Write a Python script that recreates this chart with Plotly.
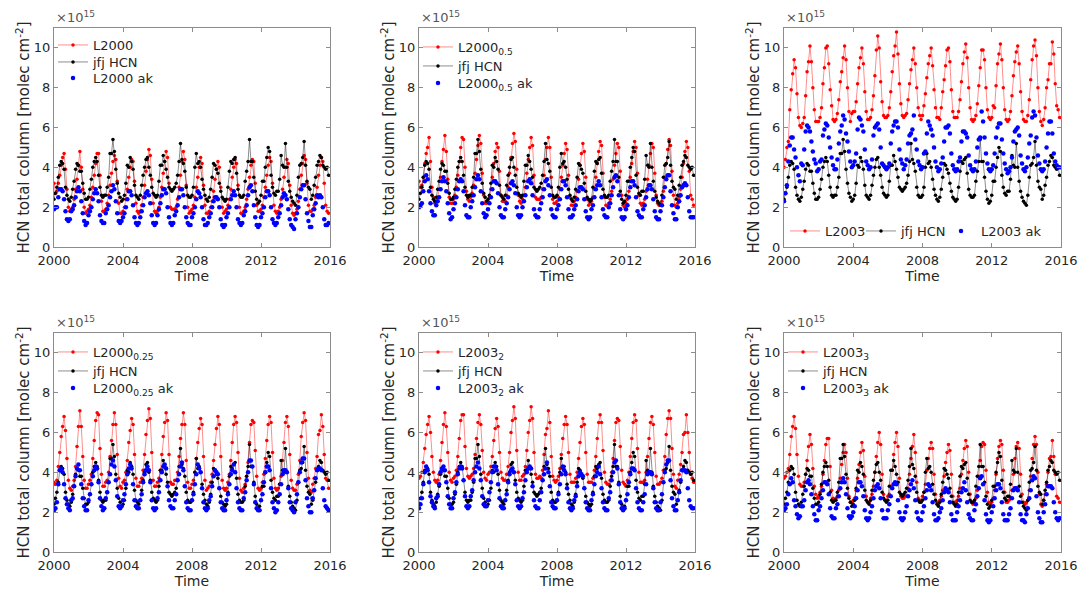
import numpy as np
import plotly.graph_objects as go

# monthly time axis, Jan 2000 .. Dec 2015 (decimal years)
time = 2000 + np.arange(192) / 12

# Jungfraujoch observed HCN total column (x1e15 molec cm-2), same in all panels
jfj_hcn = [
    2.4, 2.7, 3.0, 3.5, 4.1, 4.3, 4.2, 3.9, 3.0, 2.6, 2.4, 2.3,
    2.5, 2.9, 3.3, 3.9, 4.2, 4.1, 3.8, 3.8, 3.2, 2.7, 2.4, 2.4,
    2.5, 2.9, 3.4, 4.0, 4.3, 4.5, 4.3, 3.6, 3.0, 2.6, 2.5, 2.6,
    2.6, 3.0, 3.5, 4.7, 4.7, 5.4, 4.8, 3.9, 3.2, 2.7, 2.5, 2.3,
    2.4, 2.6, 3.2, 4.1, 4.0, 4.5, 4.3, 3.9, 3.1, 2.6, 2.5, 2.4,
    2.6, 3.1, 3.6, 4.0, 4.4, 4.5, 4.0, 3.6, 3.0, 2.7, 2.6, 2.5,
    2.6, 3.3, 4.1, 4.1, 4.6, 4.3, 3.9, 3.5, 3.0, 2.9, 2.8, 2.9,
    3.0, 3.2, 3.6, 4.3, 5.2, 4.4, 4.2, 3.8, 3.0, 2.6, 2.5, 2.5,
    2.6, 3.0, 4.0, 4.7, 4.2, 4.3, 4.0, 3.4, 2.9, 2.6, 2.4, 2.3,
    2.5, 2.9, 3.5, 4.2, 4.1, 3.9, 3.7, 3.2, 2.8, 2.5, 2.4, 2.3,
    2.4, 3.0, 3.8, 4.3, 4.2, 4.4, 4.5, 3.7, 2.9, 2.6, 2.5, 2.5,
    2.6, 3.3, 3.8, 4.3, 5.4, 4.3, 4.3, 3.5, 2.8, 2.4, 2.2, 2.3,
    2.6, 3.3, 3.3, 4.0, 4.5, 5.0, 4.8, 3.6, 3.0, 2.7, 2.6, 2.8,
    2.8, 3.4, 4.6, 4.1, 4.0, 5.2, 4.0, 3.3, 2.8, 2.5, 2.3, 2.2,
    2.1, 2.6, 3.5, 4.1, 4.2, 4.5, 5.3, 4.1, 3.3, 3.0, 2.9, 2.4,
    2.6, 3.1, 3.5, 4.1, 4.3, 4.6, 4.5, 4.1, 4.0, 3.9, 4.0, 3.6,
]

l2000 = [
    3.2, 2.7, 2.8, 3.2, 3.6, 4.1, 4.5, 4.7, 3.9, 2.9, 2.0, 1.8,
    1.9, 2.0, 2.4, 2.9, 3.4, 4.1, 4.8, 4.0, 2.9, 2.0, 1.7, 1.8,
    1.9, 2.1, 2.5, 3.0, 3.6, 4.2, 4.7, 4.7, 3.6, 2.3, 1.8, 1.8,
    1.9, 2.2, 2.6, 3.1, 3.7, 4.3, 4.6, 4.4, 3.3, 2.2, 1.7, 1.7,
    1.8, 2.0, 2.4, 2.9, 3.5, 4.0, 4.4, 4.3, 3.3, 2.2, 1.8, 1.7,
    1.8, 2.1, 2.5, 3.1, 3.8, 4.4, 4.9, 4.6, 3.4, 2.2, 1.8, 1.7,
    1.8, 2.0, 2.5, 3.0, 3.7, 4.3, 4.8, 4.5, 3.2, 2.0, 1.9, 1.9,
    1.9, 2.0, 2.4, 3.0, 3.6, 4.3, 4.8, 4.4, 3.1, 2.0, 1.7, 1.8,
    1.9, 2.1, 2.5, 3.0, 3.5, 4.0, 4.5, 4.2, 3.1, 2.1, 1.7, 1.7,
    1.8, 2.0, 2.3, 2.8, 3.4, 3.9, 4.3, 4.0, 3.0, 2.0, 1.7, 1.8,
    1.9, 2.1, 2.4, 2.9, 3.5, 4.0, 4.4, 4.2, 3.1, 2.0, 1.7, 1.7,
    1.8, 2.0, 2.4, 2.9, 3.5, 4.1, 4.4, 4.3, 3.2, 2.1, 1.8, 1.8,
    1.9, 2.1, 2.5, 3.0, 3.6, 4.1, 4.5, 4.3, 3.2, 2.1, 1.8, 1.7,
    1.8, 2.0, 2.4, 2.9, 3.5, 4.0, 4.4, 4.2, 3.1, 2.1, 1.7, 1.6,
    1.7, 1.9, 2.3, 2.9, 3.6, 4.2, 4.6, 4.4, 3.2, 2.1, 1.8, 1.8,
    1.9, 2.1, 2.5, 3.0, 3.6, 4.1, 4.5, 4.3, 3.2, 2.1, 1.8, 1.7,
]
l2000_ak = [
    1.9, 2.0, 2.0, 2.5, 2.9, 2.9, 2.8, 2.4, 1.8, 1.4, 1.3, 1.4,
    1.8, 1.9, 2.1, 2.5, 2.8, 3.0, 2.8, 2.3, 1.7, 1.3, 1.1, 1.2,
    1.6, 1.8, 2.0, 2.4, 2.7, 2.9, 2.7, 2.3, 1.6, 1.3, 1.2, 1.2,
    1.7, 1.9, 2.1, 2.5, 2.8, 3.1, 2.9, 2.3, 1.7, 1.3, 1.2, 1.3,
    1.5, 1.7, 2.0, 2.4, 2.8, 2.8, 2.6, 2.1, 1.5, 1.2, 1.1, 1.2,
    1.5, 1.8, 2.1, 2.5, 2.7, 2.8, 2.6, 2.2, 1.6, 1.2, 1.1, 1.2,
    1.6, 1.9, 2.2, 2.6, 2.9, 2.9, 2.7, 2.0, 1.5, 1.2, 1.1, 1.2,
    1.6, 1.8, 2.1, 2.5, 2.9, 2.9, 2.6, 2.0, 1.5, 1.2, 1.1, 1.1,
    1.5, 1.7, 2.0, 2.4, 2.8, 2.7, 2.5, 2.0, 1.4, 1.1, 1.1, 1.2,
    1.5, 1.7, 2.0, 2.3, 2.5, 2.5, 2.4, 2.0, 1.4, 1.1, 1.0, 1.1,
    1.5, 1.7, 2.0, 2.4, 2.6, 2.8, 2.6, 2.0, 1.4, 1.2, 1.1, 1.2,
    1.6, 1.8, 2.1, 2.6, 3.0, 3.1, 2.8, 2.1, 1.5, 1.1, 1.0, 1.1,
    1.5, 1.7, 2.0, 2.5, 2.8, 2.8, 2.6, 2.0, 1.4, 1.2, 1.1, 1.2,
    1.5, 1.7, 2.1, 2.5, 2.7, 2.6, 2.4, 1.9, 1.4, 1.1, 1.0, 0.9,
    1.4, 1.7, 2.0, 2.5, 2.9, 3.1, 3.1, 2.4, 1.7, 1.3, 1.0, 1.0,
    1.6, 1.9, 2.2, 2.6, 2.5, 2.6, 2.5, 2.0, 1.4, 1.1, 1.1, 1.2,
]

l2000_05 = [
    3.3, 3.0, 3.1, 3.5, 4.2, 4.7, 5.0, 5.5, 4.3, 3.0, 2.5, 2.2,
    2.3, 2.5, 2.9, 3.5, 4.3, 4.9, 5.6, 4.8, 3.4, 2.5, 2.2, 2.2,
    2.4, 2.6, 3.0, 3.6, 4.3, 5.0, 5.5, 5.4, 4.0, 2.8, 2.4, 2.3,
    2.5, 2.7, 3.1, 3.7, 4.4, 5.1, 5.6, 5.2, 3.7, 2.6, 2.2, 2.2,
    2.3, 2.5, 2.9, 3.5, 4.2, 4.8, 5.2, 5.0, 3.8, 2.6, 2.3, 2.3,
    2.3, 2.6, 3.0, 3.7, 4.5, 5.2, 5.7, 5.3, 3.9, 2.6, 2.3, 2.2,
    2.4, 2.6, 3.0, 3.7, 4.4, 5.0, 5.5, 5.1, 3.6, 2.5, 2.4, 2.4,
    2.4, 2.5, 2.9, 3.6, 4.4, 5.0, 5.5, 5.0, 3.5, 2.4, 2.2, 2.2,
    2.3, 2.5, 2.9, 3.5, 4.1, 4.7, 5.2, 4.9, 3.6, 2.5, 2.1, 2.1,
    2.3, 2.5, 2.8, 3.4, 4.1, 4.7, 5.2, 4.8, 3.5, 2.4, 2.1, 2.2,
    2.3, 2.5, 2.9, 3.5, 4.2, 4.8, 5.3, 5.1, 3.7, 2.5, 2.1, 2.1,
    2.2, 2.4, 2.8, 3.4, 4.1, 4.7, 5.2, 5.0, 3.8, 2.6, 2.1, 2.0,
    2.2, 2.4, 2.8, 3.5, 4.2, 4.8, 5.3, 5.0, 3.7, 2.6, 2.2, 2.1,
    2.2, 2.4, 2.8, 3.4, 4.1, 4.7, 5.2, 5.0, 3.7, 2.6, 2.2, 2.1,
    2.1, 2.3, 2.8, 3.5, 4.2, 4.9, 5.4, 5.1, 3.8, 2.6, 2.1, 2.0,
    2.2, 2.5, 2.9, 3.5, 4.2, 4.8, 5.3, 5.0, 3.8, 2.6, 2.4, 2.1,
]
l2000_05_ak = [
    2.0, 2.1, 2.2, 2.8, 3.3, 3.6, 3.4, 2.8, 2.2, 1.8, 1.6, 1.6,
    2.1, 2.3, 2.5, 2.9, 3.3, 3.5, 3.3, 2.8, 2.2, 1.7, 1.4, 1.5,
    1.9, 2.2, 2.5, 2.9, 3.3, 3.4, 3.3, 2.8, 2.1, 1.6, 1.5, 1.5,
    2.0, 2.3, 2.6, 3.0, 3.4, 3.6, 3.4, 2.8, 2.2, 1.7, 1.5, 1.6,
    1.9, 2.2, 2.5, 2.9, 3.3, 3.3, 3.2, 2.7, 2.0, 1.6, 1.5, 1.5,
    1.9, 2.2, 2.5, 2.9, 3.2, 3.3, 3.1, 2.7, 2.0, 1.6, 1.5, 1.6,
    2.0, 2.3, 2.6, 3.0, 3.3, 3.4, 3.2, 2.6, 1.9, 1.6, 1.5, 1.5,
    1.9, 2.2, 2.5, 2.9, 3.3, 3.4, 3.1, 2.6, 1.9, 1.6, 1.5, 1.5,
    1.9, 2.1, 2.4, 2.9, 3.3, 3.3, 3.1, 2.5, 1.9, 1.5, 1.5, 1.6,
    1.9, 2.1, 2.4, 2.8, 3.0, 3.0, 2.9, 2.4, 1.8, 1.5, 1.4, 1.5,
    1.9, 2.1, 2.5, 2.9, 3.1, 3.3, 3.1, 2.5, 1.9, 1.6, 1.5, 1.5,
    2.0, 2.2, 2.6, 3.0, 3.5, 3.6, 3.3, 2.6, 1.9, 1.5, 1.4, 1.5,
    1.9, 2.1, 2.5, 3.0, 3.3, 3.3, 3.1, 2.5, 1.8, 1.6, 1.5, 1.5,
    1.9, 2.1, 2.5, 2.9, 3.1, 3.1, 2.9, 2.4, 1.8, 1.5, 1.4, 1.4,
    1.8, 2.1, 2.5, 3.0, 3.4, 3.6, 3.6, 2.8, 2.1, 1.7, 1.4, 1.4,
    2.0, 2.3, 2.6, 3.0, 3.1, 3.2, 3.1, 2.5, 1.8, 1.5, 1.5, 1.5,
]

l2003 = [
    4.0, 4.4, 5.0, 5.3, 6.9, 7.9, 8.7, 9.4, 9.0, 7.7, 6.5, 6.1,
    6.0, 6.2, 6.5, 7.6, 8.8, 9.3, 10.1, 9.3, 8.0, 6.9, 6.3, 6.3,
    6.3, 6.5, 7.0, 8.2, 9.0, 10.0, 10.1, 9.2, 7.9, 7.1, 6.4, 6.3,
    6.4, 6.7, 7.4, 8.3, 8.8, 9.5, 10.1, 9.4, 8.0, 6.8, 6.3, 6.7,
    6.8, 6.8, 7.3, 8.2, 9.0, 9.5, 10.0, 9.2, 7.8, 6.8, 6.4, 6.4,
    6.5, 6.9, 7.6, 8.6, 9.9, 10.6, 10.0, 8.3, 7.3, 6.6, 6.5, 6.5,
    6.6, 7.0, 7.8, 8.8, 9.6, 10.1, 10.8, 9.7, 8.2, 7.2, 6.6, 6.5,
    6.6, 6.7, 7.4, 8.2, 8.9, 9.4, 10.0, 9.2, 8.0, 7.0, 6.6, 6.4,
    6.6, 7.1, 7.7, 8.5, 9.2, 9.6, 10.0, 9.1, 7.9, 7.0, 6.5, 6.5,
    6.4, 7.0, 7.8, 8.4, 9.1, 9.9, 10.0, 9.3, 7.9, 6.8, 6.5, 6.5,
    6.5, 6.8, 7.4, 8.3, 9.2, 9.8, 10.2, 9.5, 8.0, 7.0, 6.4, 6.3,
    6.4, 6.6, 7.2, 8.1, 9.0, 9.9, 9.9, 9.4, 8.0, 6.9, 6.5, 6.4,
    6.5, 7.1, 7.0, 8.1, 9.2, 9.7, 10.2, 9.4, 8.0, 6.9, 6.4, 6.3,
    6.4, 6.8, 7.6, 8.6, 9.3, 9.8, 10.1, 9.2, 7.8, 6.8, 6.4, 6.3,
    6.3, 6.6, 7.4, 8.4, 9.4, 10.1, 10.4, 9.6, 8.0, 6.8, 6.3, 6.1,
    6.4, 7.0, 8.0, 8.4, 9.2, 9.2, 10.3, 9.7, 8.2, 7.1, 6.9, 6.5,
]
l2003_ak = [
    2.3, 2.7, 3.1, 4.3, 5.1, 5.5, 5.5, 4.9, 4.5, 4.0, 3.6, 3.3,
    4.2, 4.1, 4.9, 5.8, 6.1, 6.0, 5.8, 5.3, 4.8, 4.4, 4.2, 3.8,
    3.9, 4.3, 4.4, 5.6, 5.9, 6.2, 6.1, 5.5, 5.0, 4.5, 4.1, 3.9,
    3.9, 4.4, 5.2, 5.8, 6.1, 6.6, 6.4, 5.7, 5.3, 4.8, 4.3, 4.0,
    4.1, 4.3, 4.7, 5.9, 6.5, 6.4, 6.1, 5.8, 4.9, 4.3, 4.1, 3.9,
    4.0, 4.4, 5.6, 6.0, 6.1, 6.2, 5.9, 5.0, 4.2, 4.1, 4.0, 3.9,
    4.0, 4.2, 5.2, 5.8, 6.1, 6.3, 6.3, 6.0, 4.9, 4.4, 4.2, 3.9,
    4.1, 4.4, 5.2, 5.6, 5.7, 5.9, 6.6, 5.4, 4.9, 4.3, 4.1, 3.9,
    4.0, 4.7, 4.8, 5.7, 6.3, 6.1, 5.9, 5.6, 5.0, 4.3, 4.0, 3.8,
    3.9, 4.2, 4.5, 5.3, 6.0, 6.0, 6.1, 5.7, 4.7, 4.1, 3.9, 3.8,
    3.9, 4.3, 4.5, 5.3, 5.8, 5.8, 5.7, 5.5, 4.6, 4.1, 3.9, 3.8,
    3.9, 4.3, 5.0, 5.4, 5.5, 6.8, 6.3, 5.5, 4.7, 4.2, 3.9, 3.8,
    3.9, 4.1, 4.7, 5.5, 6.0, 6.2, 6.2, 5.4, 4.7, 4.2, 3.9, 3.7,
    3.8, 4.0, 4.5, 5.3, 5.8, 5.9, 6.0, 5.6, 4.6, 4.2, 3.9, 3.8,
    4.0, 4.5, 5.2, 5.6, 6.5, 6.8, 6.6, 5.5, 4.6, 4.2, 3.9, 3.8,
    3.9, 4.3, 5.0, 5.7, 6.3, 6.3, 5.7, 4.7, 4.3, 4.1, 4.0, 4.0,
]

l2000_025 = [
    3.5, 3.4, 3.6, 4.3, 5.0, 5.8, 6.3, 6.8, 6.1, 4.7, 3.6, 3.2,
    3.1, 3.3, 3.6, 4.3, 5.3, 6.3, 7.1, 6.3, 4.8, 3.6, 3.2, 3.2,
    3.4, 3.6, 3.9, 4.7, 5.6, 6.6, 7.0, 6.9, 5.2, 3.9, 3.3, 3.3,
    3.5, 3.6, 4.0, 4.8, 5.6, 6.4, 7.0, 6.4, 4.9, 3.7, 3.3, 3.2,
    3.5, 3.6, 4.0, 4.6, 5.5, 6.1, 6.7, 6.4, 4.9, 3.7, 3.3, 3.3,
    3.5, 3.7, 4.1, 4.9, 5.9, 6.6, 7.2, 6.7, 5.0, 3.6, 3.3, 3.3,
    3.5, 3.7, 4.1, 4.9, 5.8, 6.5, 7.0, 6.6, 4.9, 3.5, 3.4, 3.4,
    3.6, 3.6, 4.0, 4.8, 5.7, 6.4, 7.0, 6.4, 4.6, 3.5, 3.2, 3.2,
    3.4, 3.6, 4.0, 4.7, 5.5, 6.2, 6.7, 6.4, 4.8, 3.6, 3.1, 3.2,
    3.3, 3.5, 3.9, 4.6, 5.4, 6.2, 6.8, 6.4, 4.8, 3.6, 3.2, 3.1,
    3.2, 3.5, 3.9, 4.6, 5.5, 6.4, 6.8, 6.5, 5.0, 3.7, 3.1, 3.0,
    3.2, 3.4, 3.8, 4.5, 5.5, 6.4, 6.6, 6.5, 5.1, 3.8, 3.2, 3.1,
    3.2, 3.5, 3.9, 4.7, 5.6, 6.4, 6.8, 6.5, 5.0, 3.7, 3.2, 3.1,
    3.2, 3.4, 3.8, 4.6, 5.5, 6.5, 6.8, 6.3, 4.9, 3.6, 3.2, 3.1,
    3.1, 3.4, 3.9, 4.6, 5.8, 6.5, 7.0, 6.6, 5.0, 3.7, 3.1, 3.0,
    3.4, 3.7, 4.2, 4.8, 5.9, 6.1, 6.9, 6.3, 4.9, 3.7, 3.6, 3.2,
]
l2000_025_ak = [
    2.1, 2.2, 2.5, 3.4, 4.1, 4.2, 4.0, 3.4, 2.7, 2.4, 2.2, 2.1,
    2.6, 2.7, 3.3, 3.8, 4.2, 4.4, 4.1, 3.4, 2.7, 2.3, 2.1, 2.1,
    2.6, 2.9, 3.4, 3.8, 4.1, 4.3, 4.2, 3.5, 2.7, 2.3, 2.1, 2.2,
    2.7, 3.0, 3.5, 3.9, 4.4, 4.6, 4.3, 3.6, 2.8, 2.3, 2.2, 2.3,
    2.6, 2.9, 3.4, 3.9, 4.2, 4.4, 4.2, 3.4, 2.6, 2.3, 2.2, 2.2,
    2.6, 2.9, 3.5, 3.9, 4.1, 4.3, 4.1, 3.5, 2.6, 2.2, 2.1, 2.2,
    2.7, 3.0, 3.6, 4.0, 4.3, 4.4, 4.2, 3.3, 2.6, 2.3, 2.2, 2.2,
    2.6, 2.9, 3.6, 3.9, 4.3, 4.5, 4.1, 3.3, 2.5, 2.2, 2.1, 2.1,
    2.6, 2.9, 3.4, 3.9, 4.4, 4.2, 4.0, 3.2, 2.5, 2.2, 2.1, 2.2,
    2.6, 2.8, 3.3, 3.8, 4.1, 4.0, 3.9, 3.2, 2.5, 2.2, 2.1, 2.1,
    2.6, 2.9, 3.4, 3.9, 4.1, 4.4, 4.0, 3.2, 2.5, 2.2, 2.1, 2.1,
    2.7, 3.0, 3.6, 4.0, 4.6, 4.6, 4.3, 3.4, 2.5, 2.2, 2.1, 2.1,
    2.6, 2.9, 3.5, 4.0, 4.3, 4.3, 4.1, 3.2, 2.5, 2.2, 2.0, 2.1,
    2.5, 2.9, 3.4, 3.9, 4.1, 4.1, 4.0, 3.2, 2.5, 2.2, 2.1, 2.0,
    2.5, 2.9, 3.5, 4.0, 4.5, 4.7, 4.7, 3.6, 2.7, 2.3, 2.0, 2.0,
    2.7, 3.1, 3.7, 4.1, 4.2, 4.2, 4.1, 3.2, 2.6, 2.3, 2.2, 2.1,
]

l2003_2 = [
    3.7, 3.8, 4.0, 4.5, 5.2, 5.9, 6.4, 6.8, 6.0, 4.8, 4.0, 3.6,
    3.5, 3.6, 3.9, 4.6, 5.5, 6.4, 7.0, 6.3, 5.0, 4.0, 3.6, 3.5,
    3.7, 3.8, 4.1, 4.8, 5.7, 6.6, 6.9, 6.9, 5.3, 4.2, 3.8, 3.7,
    3.8, 3.9, 4.2, 4.9, 5.7, 6.5, 6.9, 6.4, 5.1, 4.0, 3.7, 3.6,
    3.9, 4.0, 4.3, 4.8, 5.6, 6.2, 6.7, 6.3, 5.0, 4.0, 3.7, 3.6,
    3.6, 3.9, 4.3, 5.0, 6.0, 6.6, 7.3, 6.7, 5.1, 4.0, 3.6, 3.6,
    3.8, 3.9, 4.3, 5.1, 6.0, 6.6, 7.3, 6.7, 5.0, 3.9, 3.7, 3.7,
    3.8, 3.7, 4.1, 4.9, 5.9, 6.2, 7.1, 6.5, 4.8, 3.8, 3.6, 3.5,
    3.6, 3.8, 4.2, 4.9, 5.7, 6.4, 6.8, 6.4, 5.0, 3.9, 3.5, 3.5,
    3.5, 3.7, 4.0, 4.7, 5.5, 6.3, 6.7, 6.4, 5.0, 3.9, 3.5, 3.5,
    3.5, 3.7, 4.1, 4.8, 5.7, 6.5, 6.9, 6.5, 5.1, 4.0, 3.5, 3.4,
    3.4, 3.6, 4.0, 4.7, 5.6, 6.5, 6.7, 6.6, 5.3, 4.1, 3.5, 3.4,
    3.3, 3.6, 4.0, 4.8, 5.7, 6.5, 6.9, 6.6, 5.2, 4.0, 3.5, 3.5,
    3.5, 3.6, 4.0, 4.8, 5.7, 6.5, 6.8, 6.4, 5.0, 3.8, 3.4, 3.4,
    3.5, 3.7, 4.1, 4.8, 5.9, 6.7, 7.1, 6.7, 5.2, 3.9, 3.3, 3.2,
    3.6, 3.9, 4.4, 5.0, 5.9, 6.0, 6.9, 6.0, 5.0, 3.9, 3.7, 3.5,
]
l2003_2_ak = [
    2.2, 2.4, 2.7, 3.4, 4.0, 4.3, 4.1, 3.5, 2.8, 2.5, 2.3, 2.2,
    2.7, 2.8, 3.4, 4.0, 4.2, 4.3, 4.1, 3.5, 2.8, 2.4, 2.2, 2.2,
    2.7, 3.0, 3.5, 3.9, 4.2, 4.3, 4.2, 3.6, 2.8, 2.3, 2.2, 2.3,
    2.8, 3.1, 3.6, 4.0, 4.3, 4.5, 4.2, 3.6, 2.8, 2.4, 2.3, 2.3,
    2.6, 3.0, 3.5, 4.0, 4.3, 4.3, 4.1, 3.4, 2.7, 2.3, 2.2, 2.2,
    2.6, 2.9, 3.5, 3.9, 4.1, 4.2, 4.0, 3.4, 2.6, 2.3, 2.2, 2.3,
    2.7, 3.0, 3.6, 4.0, 4.2, 4.3, 4.2, 3.3, 2.6, 2.3, 2.2, 2.2,
    2.6, 3.0, 3.6, 3.9, 4.2, 4.5, 4.0, 3.3, 2.5, 2.3, 2.2, 2.2,
    2.6, 2.9, 3.4, 3.9, 4.3, 4.1, 3.9, 3.2, 2.5, 2.2, 2.1, 2.2,
    2.6, 2.8, 3.3, 3.8, 4.0, 3.9, 3.8, 3.2, 2.5, 2.2, 2.1, 2.1,
    2.6, 2.9, 3.4, 3.8, 4.0, 4.3, 3.9, 3.2, 2.5, 2.2, 2.1, 2.1,
    2.7, 3.0, 3.6, 4.0, 4.5, 4.6, 4.2, 3.4, 2.5, 2.2, 2.1, 2.2,
    2.6, 2.9, 3.5, 3.9, 4.2, 4.2, 4.1, 3.2, 2.5, 2.2, 2.1, 2.1,
    2.5, 2.9, 3.4, 3.9, 4.0, 4.0, 3.9, 3.2, 2.5, 2.2, 2.1, 2.1,
    2.5, 2.9, 3.5, 4.0, 4.4, 4.6, 4.6, 3.6, 2.7, 2.3, 2.1, 2.1,
    2.6, 3.0, 3.6, 4.1, 4.1, 4.1, 4.0, 3.2, 2.6, 2.3, 2.2, 2.2,
]

l2003_3 = [
    3.7, 3.8, 4.0, 4.2, 4.9, 5.8, 6.3, 6.8, 6.2, 4.9, 3.8, 3.4,
    3.3, 3.3, 3.5, 3.9, 4.6, 5.3, 5.9, 5.4, 4.2, 3.3, 2.9, 2.7,
    2.8, 3.0, 3.3, 3.9, 4.6, 5.4, 5.7, 5.7, 4.3, 3.1, 2.7, 2.6,
    2.7, 2.8, 3.1, 3.7, 4.4, 5.0, 5.4, 5.0, 3.7, 2.8, 2.5, 2.5,
    2.6, 2.7, 3.1, 3.7, 4.4, 5.0, 5.5, 5.1, 3.8, 2.8, 2.5, 2.5,
    2.7, 2.9, 3.3, 4.0, 4.8, 5.5, 6.0, 5.4, 3.9, 2.9, 2.6, 2.6,
    2.8, 2.9, 3.3, 4.1, 4.9, 5.5, 6.0, 5.3, 3.7, 2.8, 2.7, 2.7,
    2.8, 2.8, 3.2, 3.9, 4.7, 5.3, 5.9, 5.0, 3.5, 2.7, 2.6, 2.6,
    2.8, 3.0, 3.4, 4.1, 4.7, 5.2, 5.5, 5.2, 3.9, 2.9, 2.5, 2.4,
    2.6, 2.8, 3.1, 3.8, 4.5, 5.0, 5.4, 5.1, 3.9, 2.8, 2.5, 2.5,
    2.6, 2.8, 3.2, 3.9, 4.6, 5.2, 5.6, 5.3, 4.0, 2.9, 2.5, 2.4,
    2.5, 2.7, 3.1, 3.8, 4.6, 5.3, 5.5, 5.4, 4.1, 3.0, 2.5, 2.4,
    2.5, 2.7, 3.1, 3.9, 4.7, 5.3, 5.6, 5.4, 4.1, 3.0, 2.5, 2.5,
    2.6, 2.7, 3.1, 3.9, 4.7, 5.3, 5.5, 5.2, 3.9, 2.9, 2.5, 2.4,
    2.5, 2.6, 3.1, 3.8, 4.7, 5.4, 5.8, 5.4, 4.0, 2.9, 2.4, 2.3,
    2.6, 2.9, 3.4, 4.0, 4.7, 4.8, 5.6, 4.8, 3.9, 2.8, 2.7, 2.5,
]
l2003_3_ak = [
    2.1, 2.2, 2.4, 2.9, 3.4, 3.7, 3.5, 2.6, 2.3, 1.9, 1.7, 1.8,
    2.3, 2.3, 2.6, 3.1, 3.5, 3.6, 3.4, 2.9, 2.3, 1.9, 1.6, 1.6,
    2.1, 2.3, 2.7, 3.1, 3.5, 3.5, 3.4, 2.9, 2.2, 1.8, 1.7, 1.7,
    2.2, 2.4, 2.8, 3.2, 3.5, 3.7, 3.5, 2.9, 2.2, 1.8, 1.7, 1.8,
    2.0, 2.3, 2.7, 3.1, 3.5, 3.5, 3.3, 2.8, 2.1, 1.7, 1.6, 1.7,
    2.0, 2.3, 2.7, 3.1, 3.3, 3.4, 3.2, 2.7, 2.1, 1.7, 1.7, 1.7,
    2.1, 2.4, 2.8, 3.2, 3.4, 3.5, 3.4, 2.6, 2.0, 1.7, 1.6, 1.7,
    2.0, 2.3, 2.8, 3.1, 3.4, 3.6, 3.2, 2.6, 2.0, 1.7, 1.6, 1.6,
    2.0, 2.3, 2.7, 3.1, 3.4, 3.3, 3.1, 2.5, 1.9, 1.6, 1.6, 1.7,
    2.0, 2.2, 2.6, 3.0, 3.2, 3.1, 3.0, 2.5, 1.9, 1.6, 1.6, 1.6,
    2.0, 2.3, 2.6, 3.0, 3.2, 3.5, 3.1, 2.5, 1.9, 1.7, 1.6, 1.6,
    2.1, 2.4, 2.8, 3.2, 3.7, 3.8, 3.4, 2.6, 1.9, 1.6, 1.5, 1.6,
    2.0, 2.3, 2.7, 3.1, 3.4, 3.4, 3.2, 2.5, 1.9, 1.6, 1.6, 1.6,
    1.9, 2.2, 2.7, 3.1, 3.2, 3.2, 3.1, 2.5, 1.9, 1.6, 1.6, 1.5,
    1.9, 2.2, 2.7, 3.1, 3.6, 3.8, 3.7, 2.8, 2.0, 1.7, 1.5, 1.5,
    2.0, 2.4, 2.9, 3.3, 3.3, 3.3, 3.2, 2.5, 2.0, 1.7, 1.6, 1.7,
]

# (model name, model series, ak series) for each panel, row by row
panels = [
    ("L2000", l2000, l2000_ak),
    ("L2000<sub>0.5</sub>", l2000_05, l2000_05_ak),
    ("L2003", l2003, l2003_ak),
    ("L2000<sub>0.25</sub>", l2000_025, l2000_025_ak),
    ("L2003<sub>2</sub>", l2003_2, l2003_2_ak),
    ("L2003<sub>3</sub>", l2003_3, l2003_3_ak),
]

W, H = 1079, 590
col_px = [(54, 330), (419, 695), (784, 1061)]
row_px = [(28, 247), (333, 552)]


def px_x(p):
    return p / W


def px_y(p):
    return 1 - p / H


FONT = "DejaVu Sans"
TXT = "#262626"
AX = "#8c8c8c"

fig = go.Figure()
layout = dict(
    width=W, height=H,
    margin=dict(l=0, r=0, t=0, b=0, autoexpand=False),
    paper_bgcolor="white", plot_bgcolor="white",
    font=dict(family=FONT, size=13, color=TXT),
    showlegend=True,
    annotations=[],
)


def legend_box(x, y):
    return dict(x=px_x(x), y=px_y(y), xanchor="left", yanchor="middle",
                bgcolor="rgba(0,0,0,0)", font=dict(size=13, color=TXT),
                itemwidth=30)


for i, (name, model, ak) in enumerate(panels):
    r, c = divmod(i, 3)
    k = "" if i == 0 else str(i + 1)
    xa, ya = "x" + k, "y" + k
    x0, x1 = col_px[c]
    y0, y1 = row_px[r]

    # one legend box per entry so each can sit where the reference has it
    lgs = []
    for j in range(3):
        n = i * 3 + j + 1
        lgs.append("legend" if n == 1 else "legend%d" % n)

    if c == 2 and r == 0:
        # single row along the bottom of the axes
        spots = [(785, y1 - 16), (861, y1 - 16), (941, y1 - 16)]
    elif "<sub>" in name:
        spots = [(x0 - 1, y0 + 19), (x0 - 1, y0 + 38), (x0 - 1, y0 + 55)]
    else:
        spots = [(x0 - 1, y0 + 17), (x0 - 1, y0 + 34), (x0 - 1, y0 + 50)]
    for lg, (lx, ly) in zip(lgs, spots):
        layout[lg] = legend_box(lx, ly)

    fig.add_trace(go.Scatter(
        x=time, y=model, mode="lines+markers", name=name,
        line=dict(color="rgba(255,0,0,0.45)", width=1),
        marker=dict(color="#ff0000", size=3.5),
        xaxis=xa, yaxis=ya, legend=lgs[0]))
    fig.add_trace(go.Scatter(
        x=time, y=jfj_hcn, mode="lines+markers", name="jfj HCN",
        line=dict(color="rgba(0,0,0,0.45)", width=1),
        marker=dict(color="#000000", size=3.5),
        xaxis=xa, yaxis=ya, legend=lgs[1]))
    fig.add_trace(go.Scatter(
        x=time, y=ak, mode="markers", name=name + " ak",
        marker=dict(color="#0000ff", size=4.5),
        xaxis=xa, yaxis=ya, legend=lgs[2]))

    layout["xaxis" + k] = dict(
        domain=[px_x(x0), px_x(x1)], anchor=ya, range=[2000, 2016],
        tickvals=[2000, 2004, 2008, 2012, 2016],
        ticks="inside", ticklen=4, tickcolor=AX, ticklabelstandoff=1,
        showline=True, linecolor=AX, linewidth=1, mirror="ticks",
        showgrid=False, zeroline=False, automargin=False,
        tickfont=dict(size=13, color=TXT),
        title=dict(text="Time", font=dict(size=14, color=TXT), standoff=0),
    )
    layout["yaxis" + k] = dict(
        domain=[px_y(y1), px_y(y0)], anchor=xa, range=[0, 11],
        tickvals=[0, 2, 4, 6, 8, 10],
        ticks="inside", ticklen=4, tickcolor=AX,
        showline=True, linecolor=AX, linewidth=1, mirror="ticks",
        showgrid=False, zeroline=False, automargin=False,
        tickfont=dict(size=13, color=TXT),
        title=dict(text="HCN total column [molec cm<sup>-2</sup>]",
                   font=dict(size=15, color=TXT), standoff=0),
    )
    layout["annotations"].append(dict(
        x=px_x(x0), y=px_y(y0 - 1), xref="paper", yref="paper",
        xanchor="left", yanchor="bottom", showarrow=False,
        text="\u00d710<sup>15</sup>", font=dict(size=13, color="#555555"),
    ))

fig.update_layout(**layout)
# drop the browser's default 8px page margin so the figure fills the window
fig.write_html(
    "out.html",
    config={"displayModeBar": False},
    post_script="document.body.style.margin='0';"
                "document.body.style.overflow='hidden';",
)
